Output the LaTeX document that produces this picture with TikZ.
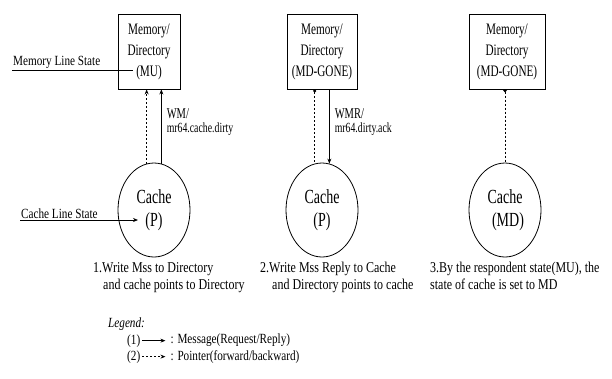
\documentclass[tikz,border=0pt]{standalone}
\usepackage{fontspec}
\usepackage{tikz}
\usetikzlibrary{arrows.meta,positioning,shapes.geometric}
\setmainfont{Liberation Serif}
\newfontfamily\tallfont{Liberation Serif}[FakeStretch=0.7]
\newfontfamily\capfont{Liberation Serif}[FakeStretch=0.8]
\tikzset{
  memorybox/.style={
    draw,
    line width=0.9pt,
    minimum height=75pt,
    align=center,
    inner sep=1pt,
    font=\tallfont\fontsize{16}{21}\selectfont
  },
  cachenode/.style={
    draw,
    ellipse,
    line width=0.8pt,
    minimum width=72pt,
    minimum height=94pt,
    align=center,
    font=\tallfont\fontsize{20}{23}\selectfont
  },
  msgarrow/.style={-{Stealth[length=5pt,width=4pt]}, line width=0.8pt},
  ptrarrow/.style={-{Stealth[length=5pt,width=4pt]}, line width=0.8pt, dash pattern=on 2pt off 2pt},
  edgelabel/.style={font=\tallfont\fontsize{14}{14}\selectfont, align=left, inner sep=2pt},
  statetext/.style={font=\capfont\fontsize{14}{14}\selectfont, inner sep=1pt},
  captiontext/.style={font=\capfont\fontsize{15}{17}\selectfont, align=left, inner sep=0pt},
  legendtext/.style={font=\capfont\fontsize{14}{16}\selectfont, inner sep=0pt}
}

\begin{document}
\begin{tikzpicture}[x=1pt, y=-1pt]
\useasboundingbox (0,0) rectangle (612,378);

\node[memorybox, minimum width=62pt] (mem1) at (149,51.5) {Memory/\\Directory\\(MU)};
\node[memorybox, minimum width=70pt] (mem2) at (322,51.5) {Memory/\\Directory\\(MD-GONE)};
\node[memorybox, minimum width=76pt] (mem3) at (507,51.5) {Memory/\\Directory\\(MD-GONE)};

\node[cachenode] (cache1) at (154,210) {Cache\\(P)};
\node[cachenode] (cache2) at (322,210) {Cache\\(P)};
\node[cachenode] (cache3) at (505,210) {Cache\\\hspace*{6pt}(MD)};

\draw[ptrarrow] (cache1.99) -- (cache1.99 |- mem1.south);
\draw[msgarrow] (cache1.81) -- node[edgelabel, anchor=west, pos=0.56, xshift=3pt] {{\fontsize{15}{15}\selectfont WM/}\\mr64.cache.dirty} (cache1.81 |- mem1.south);

\draw[ptrarrow, {Circle[length=3pt]}-] (cache2.99 |- mem2.south) -- (cache2.99);
\draw[msgarrow] (cache2.81 |- mem2.south) -- node[edgelabel, anchor=west, pos=0.44, xshift=3pt] {{\fontsize{15}{15}\selectfont WMR/}\\mr64.dirty.ack} (cache2.81);

\draw[ptrarrow, {Triangle[reversed,length=3pt,width=5pt]}-] (cache3.north |- mem3.south) -- (cache3.north);

\coordinate (mlsstart) at (12,70);
\coordinate (mlsend) at (133,70);
\node[statetext, anchor=south west] (mls) at (mlsstart) {Memory Line State};
\draw[line width=0.8pt] (mlsstart) -- (mlsend);

\coordinate (clsstart) at (20,220);
\coordinate (clsend) at (138,220);
\node[statetext, anchor=south west] (cls) at (clsstart) {Cache Line State};
\draw[msgarrow] (clsstart) -- (clsend);

\node[captiontext, anchor=base west] (step1) at (93,289) {1.Write Mss to Directory\\\hspace*{10pt}and cache points to Directory};
\node[captiontext, anchor=base west] (step2) at (260,289) {2.Write Mss Reply to Cache\\\hspace*{12pt}and Directory points to cache};
\node[captiontext, anchor=base west] (step3) at (430,289) {3.By the respondent state(MU), the\\state of cache is set to MD};

\node[legendtext, anchor=base west] (legend) at (108,327) {\itshape Legend:};
\node[legendtext, anchor=base west] (num1) at (127,344) {(1)};
\node[legendtext, right=30pt of num1] (desc1) {: Message(Request/Reply)};
\node[legendtext, anchor=base west] (num2) at (127,360) {(2)};
\node[legendtext, right=30pt of num2] (desc2) {: Pointer(forward/backward)};
\draw[msgarrow, shorten <=2pt, shorten >=5pt] (num1) -- (desc1);
\draw[ptrarrow, shorten <=2pt, shorten >=5pt] (num2) -- (desc2);
\end{tikzpicture}
\end{document}
